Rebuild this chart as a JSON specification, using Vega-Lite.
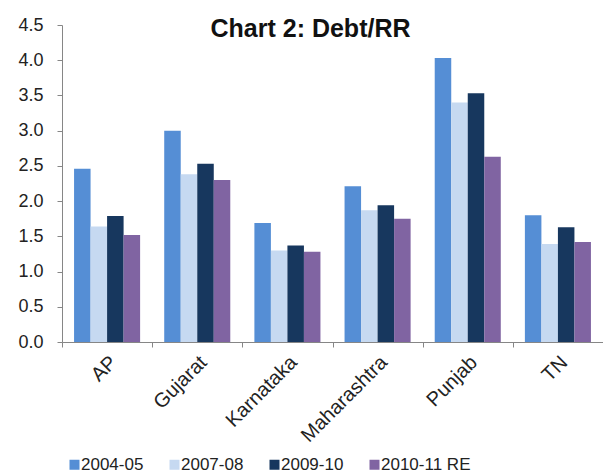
{
  "$schema": "https://vega.github.io/schema/vega-lite/v6.json",
  "width": 541,
  "height": 317,
  "autosize": "none",
  "padding": {"left": 62, "top": 25, "right": 0, "bottom": 132},
  "background": "white",
  "config": {
    "view": {"stroke": null},
    "font": "Liberation Sans",
    "axis": {"grid": false}
  },
  "title": {
    "text": "Chart 2:  Debt/RR",
    "font": "Liberation Sans",
    "fontSize": 25,
    "fontWeight": "bold",
    "color": "#111111",
    "anchor": "middle",
    "dx": -22,
    "offset": -26
  },
  "data": {
    "values": [
      {"state": "AP", "year": "2004-05", "ratio": 2.46},
      {"state": "AP", "year": "2007-08", "ratio": 1.64},
      {"state": "AP", "year": "2009-10", "ratio": 1.79},
      {"state": "AP", "year": "2010-11 RE", "ratio": 1.52},
      {"state": "Gujarat", "year": "2004-05", "ratio": 3.0},
      {"state": "Gujarat", "year": "2007-08", "ratio": 2.38},
      {"state": "Gujarat", "year": "2009-10", "ratio": 2.53},
      {"state": "Gujarat", "year": "2010-11 RE", "ratio": 2.3},
      {"state": "Karnataka", "year": "2004-05", "ratio": 1.69},
      {"state": "Karnataka", "year": "2007-08", "ratio": 1.3},
      {"state": "Karnataka", "year": "2009-10", "ratio": 1.37},
      {"state": "Karnataka", "year": "2010-11 RE", "ratio": 1.28},
      {"state": "Maharashtra", "year": "2004-05", "ratio": 2.21},
      {"state": "Maharashtra", "year": "2007-08", "ratio": 1.87},
      {"state": "Maharashtra", "year": "2009-10", "ratio": 1.94},
      {"state": "Maharashtra", "year": "2010-11 RE", "ratio": 1.75},
      {"state": "Punjab", "year": "2004-05", "ratio": 4.03},
      {"state": "Punjab", "year": "2007-08", "ratio": 3.4},
      {"state": "Punjab", "year": "2009-10", "ratio": 3.53},
      {"state": "Punjab", "year": "2010-11 RE", "ratio": 2.63},
      {"state": "TN", "year": "2004-05", "ratio": 1.8},
      {"state": "TN", "year": "2007-08", "ratio": 1.39},
      {"state": "TN", "year": "2009-10", "ratio": 1.63},
      {"state": "TN", "year": "2010-11 RE", "ratio": 1.42}
    ]
  },
  "mark": {"type": "bar"},
  "encoding": {
    "x": {
      "field": "state",
      "type": "nominal",
      "sort": null,
      "title": null,
      "scale": {"paddingInner": 0, "paddingOuter": 0},
      "axis": {
        "tickBand": "extent",
        "domainColor": "#868686",
        "tickColor": "#868686",
        "tickSize": 5,
        "labelAngle": -45,
        "labelAlign": "right",
        "labelBaseline": "middle",
        "labelPadding": 12,
        "labelOffset": 6,
        "labelFontSize": 20,
        "labelColor": "#222222",
        "labelFont": "Liberation Sans"
      }
    },
    "xOffset": {
      "field": "year",
      "type": "nominal",
      "sort": null,
      "scale": {"paddingInner": 0, "paddingOuter": 0.73}
    },
    "y": {
      "field": "ratio",
      "type": "quantitative",
      "title": null,
      "scale": {"domain": [0, 4.5], "nice": false},
      "axis": {
        "values": [0, 0.5, 1, 1.5, 2, 2.5, 3, 3.5, 4, 4.5],
        "format": ".1f",
        "domainColor": "#868686",
        "tickColor": "#868686",
        "tickSize": 5,
        "labelPadding": 14,
        "labelFontSize": 18,
        "labelColor": "#222222",
        "labelFont": "Liberation Sans"
      }
    },
    "color": {
      "field": "year",
      "type": "nominal",
      "sort": null,
      "title": null,
      "scale": {
        "domain": ["2004-05", "2007-08", "2009-10", "2010-11 RE"],
        "range": ["#558ED5", "#C6D9F1", "#17375E", "#8064A2"]
      },
      "legend": {
        "orient": "none",
        "direction": "horizontal",
        "legendX": 4,
        "legendY": 431,
        "symbolType": "square",
        "symbolSize": 100,
        "symbolStrokeWidth": 0,
        "labelFontSize": 17,
        "labelColor": "#222222",
        "labelFont": "Liberation Sans",
        "labelOffset": -2,
        "columnPadding": 22
      }
    }
  }
}
